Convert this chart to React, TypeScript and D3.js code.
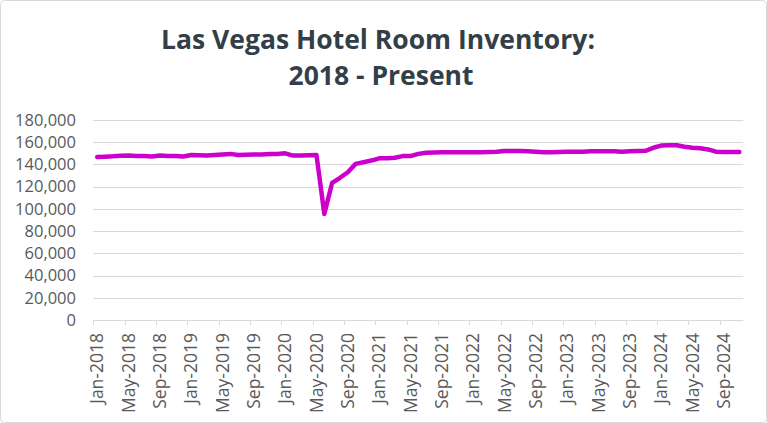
import React from 'react';
import * as d3 from 'd3';

const W = 767;
const H = 423;

// categories: Jan-2018 .. Nov-2024 (monthly)
const months = d3
  .timeMonths(new Date(2018, 0, 1), new Date(2024, 11, 1))
  .map(d3.timeFormat('%b-%Y'));

// hotel rooms (thousands)
const rooms2018 = [146.8, 147, 147.3, 147.8, 148, 147.6, 147.6, 147.2, 148, 147.6, 147.6, 147.2];
const rooms2019 = [148.5, 148.3, 148, 148.5, 149, 149.5, 148.5, 148.8, 149, 149, 149.3, 149.5];
const rooms2020 = [150, 148, 148, 148.3, 148.5, 95.5, 123.5, 128, 133, 140.5, 142, 143.5];
const rooms2021 = [145.5, 145.5, 146, 147.5, 147.5, 149.5, 150.5, 150.8, 151, 151, 151, 151];
const rooms2022 = [151, 151, 151.2, 151.5, 152, 152, 152, 151.8, 151.5, 151, 151, 151.2];
const rooms2023 = [151.5, 151.5, 151.5, 151.8, 151.8, 151.8, 151.8, 151.5, 151.8, 152, 152.3, 155];
const rooms2024 = [157, 157.3, 157.3, 156, 155, 154.5, 153.5, 151.5, 151.3, 151.3, 151.3];

const inventory = [
  ...rooms2018, ...rooms2019, ...rooms2020, ...rooms2021,
  ...rooms2022, ...rooms2023, ...rooms2024,
].map(v => v * 1000);

const yTicks = [0, 20000, 40000, 60000, 80000, 100000, 120000, 140000, 160000, 180000];
const titleLines = ['Las Vegas Hotel Room Inventory:', '2018 - Present'];

const FONT = "'Open Sans', 'Segoe UI', sans-serif";

export default function App() {
  const x = d3.scaleBand<string>().domain(months).range([93.3, 743.3]).paddingInner(0).paddingOuter(0);
  const y = d3.scaleLinear().domain([0, 180000]).range([320, 120]);
  const bw = x.bandwidth();
  const cx = (m: string) => (x(m) as number) + bw / 2;

  const line = d3
    .line<number>()
    .x((_, i) => cx(months[i]))
    .y(d => y(d));

  const tickMonths = months.filter((_, i) => i % 4 === 0);
  const fmt = d3.format(',');

  return (
    <div style={{ position: 'fixed', left: 0, top: 0 }}>
      <svg width={W} height={H} style={{ display: 'block', background: '#fff' }}>
        <rect x={0.5} y={0.5} width={W - 1} height={H - 1} rx={4} fill="#fff" stroke="#d9d9d9" />

        <g fontFamily={FONT} fontWeight="bold" fontSize={26.5} fill="#333f48" textAnchor="middle">
          <text x={378} y={49}>{titleLines[0]}</text>
          <text x={381} y={85}>{titleLines[1]}</text>
        </g>

        {/* gridlines */}
        <g stroke="#d9d9d9" strokeWidth={1}>
          {yTicks.map(t => (
            <line key={t} x1={93.3} x2={743.3} y1={Math.round(y(t)) + 0.5} y2={Math.round(y(t)) + 0.5} />
          ))}
        </g>

        {/* y labels */}
        <g fontFamily={FONT} fontSize={16.5} fill="#595959" textAnchor="end">
          {yTicks.map(t => (
            <text key={t} x={76} y={y(t)} dy="0.35em">{fmt(t)}</text>
          ))}
        </g>

        {/* x ticks */}
        <g stroke="#d9d9d9" strokeWidth={1}>
          {tickMonths.map(m => (
            <line key={m} x1={Math.round(x(m) as number) + 0.5} x2={Math.round(x(m) as number) + 0.5} y1={320} y2={325} />
          ))}
        </g>

        {/* x labels */}
        <g fontFamily={FONT} fontSize={17.5} fill="#595959" textAnchor="end">
          {tickMonths.map(m => (
            <text key={m} transform={`translate(${cx(m)},333) rotate(-90)`} dy="0.35em">{m}</text>
          ))}
        </g>

        <path
          d={line(inventory) as string}
          fill="none"
          stroke="#cc00cc"
          strokeWidth={4.5}
          strokeLinejoin="round"
          strokeLinecap="round"
        />
      </svg>
    </div>
  );
}
